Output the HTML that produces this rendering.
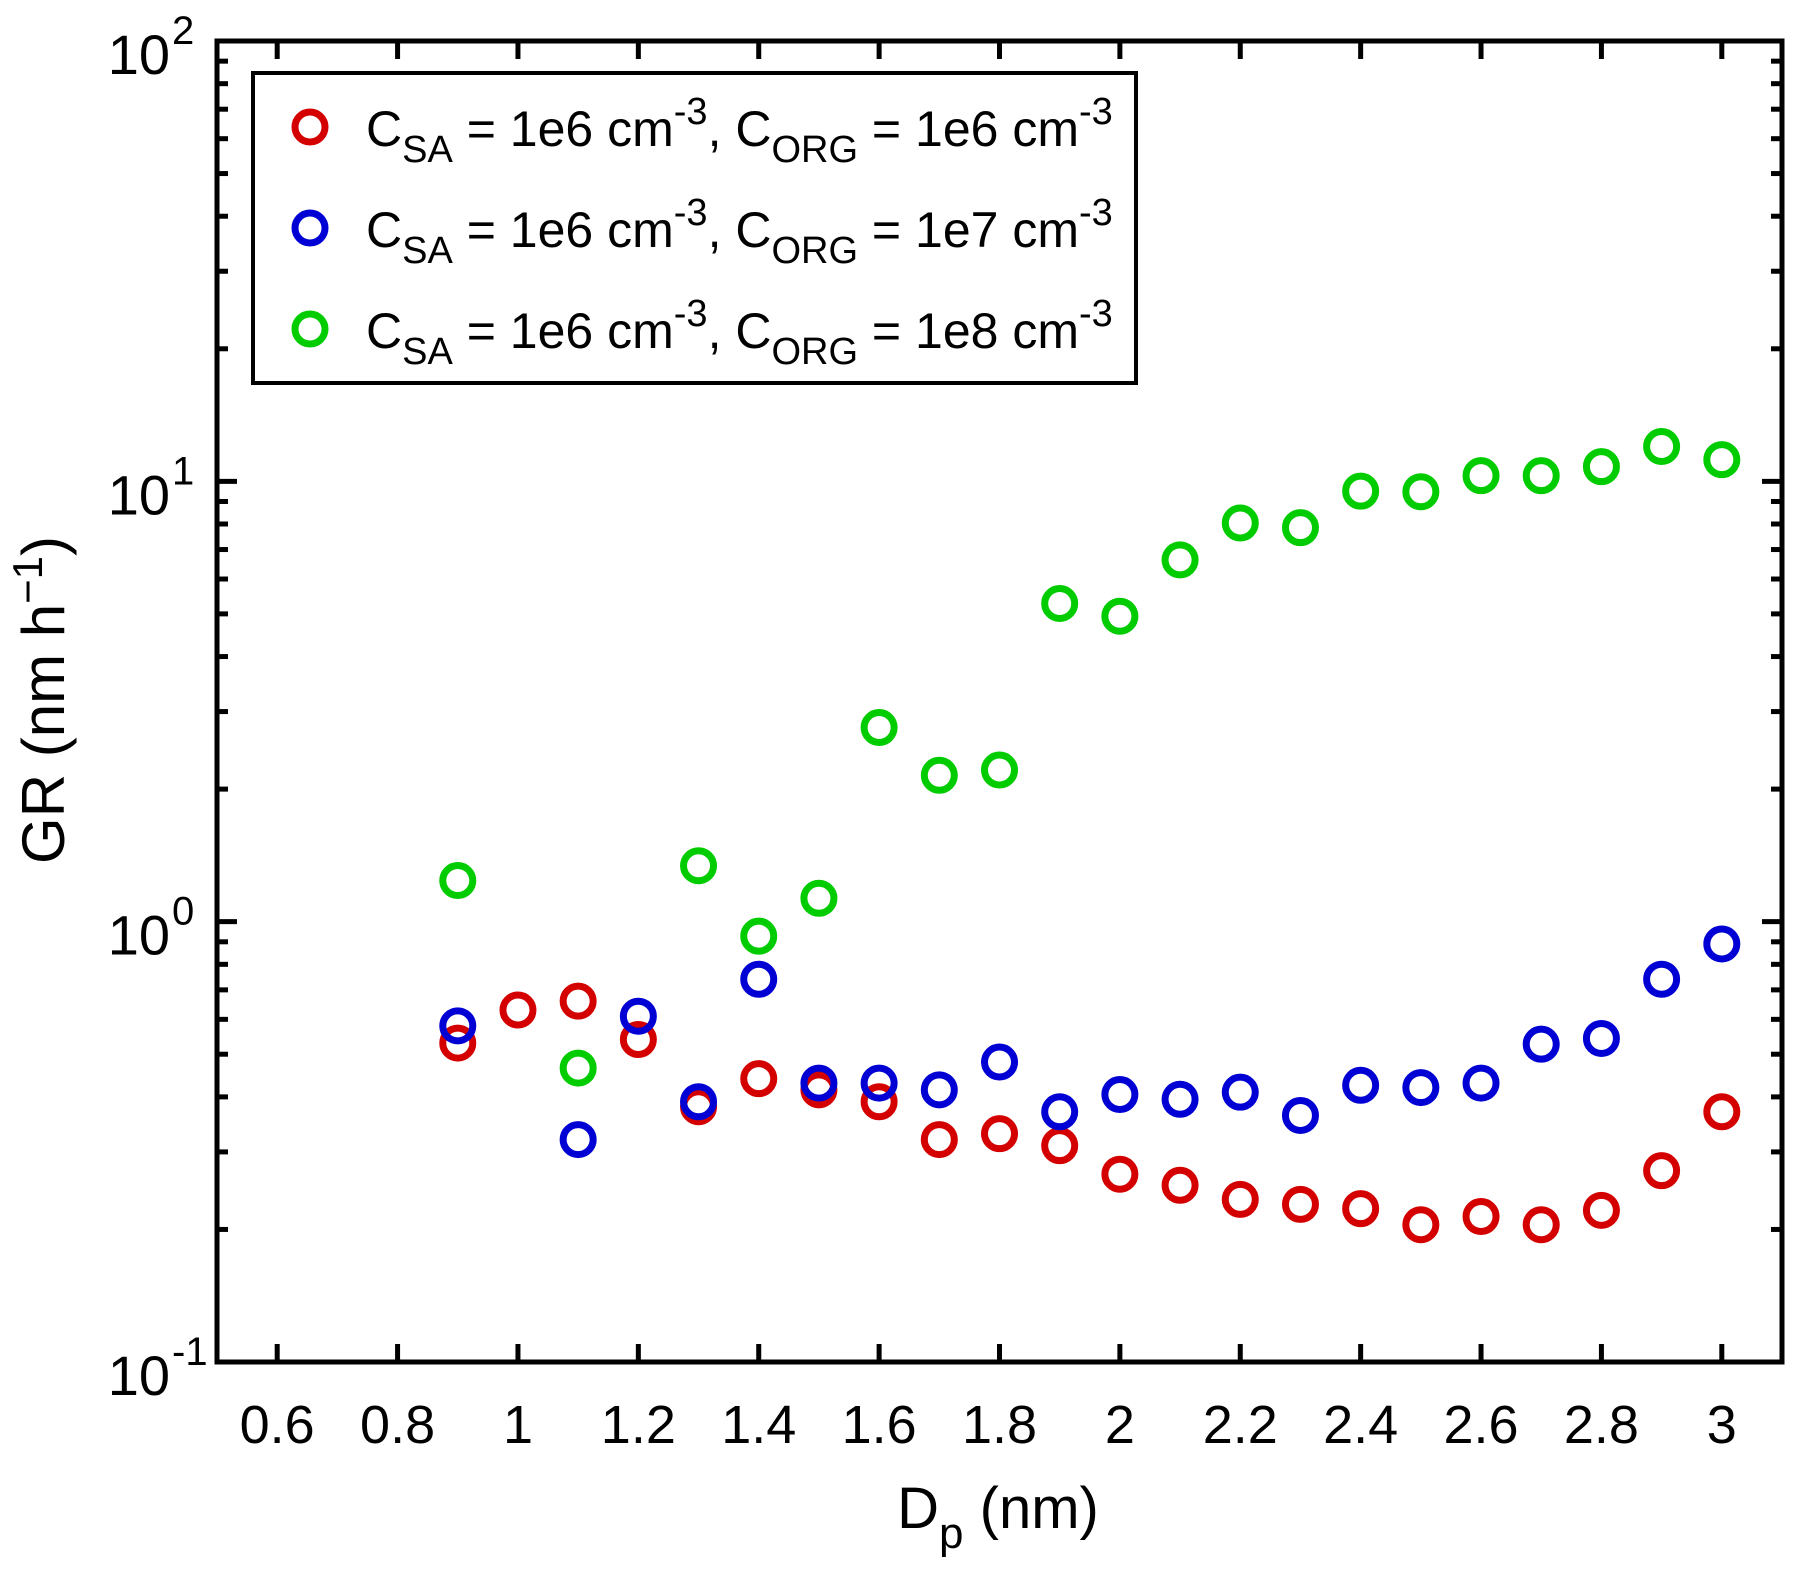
<!DOCTYPE html>
<html><head><meta charset="utf-8"><style>
body{margin:0;background:#fff}
svg{display:block;font-family:"Liberation Sans",Arial,sans-serif}
</style></head><body>
<svg id="chart" width="1798" height="1578" viewBox="0 0 1798 1578">
<rect width="1798" height="1578" fill="#fff"/>
<g id="marks"></g>
<g id="axes"></g>
<g id="legend">
<rect x="253" y="73" width="883" height="310" fill="#fff" stroke="#000" stroke-width="4"/>
<g>
<circle cx="310" cy="127" r="15" fill="none" stroke="#d40000" stroke-width="7"/>
<text x="366" y="146" font-size="50">C<tspan font-size="38" dy="16">SA</tspan><tspan dy="-16"> = 1e6 cm</tspan><tspan font-size="38" dy="-22">-3</tspan><tspan dy="22">, C</tspan><tspan font-size="38" dy="16">ORG</tspan><tspan dy="-16"> = 1e6 cm</tspan><tspan font-size="38" dy="-22">-3</tspan></text>
</g>
<g>
<circle cx="310" cy="228" r="15" fill="none" stroke="#0000d4" stroke-width="7"/>
<text x="366" y="247" font-size="50">C<tspan font-size="38" dy="16">SA</tspan><tspan dy="-16"> = 1e6 cm</tspan><tspan font-size="38" dy="-22">-3</tspan><tspan dy="22">, C</tspan><tspan font-size="38" dy="16">ORG</tspan><tspan dy="-16"> = 1e7 cm</tspan><tspan font-size="38" dy="-22">-3</tspan></text>
</g>
<g>
<circle cx="310" cy="329" r="15" fill="none" stroke="#00cc00" stroke-width="7"/>
<text x="366" y="348" font-size="50">C<tspan font-size="38" dy="16">SA</tspan><tspan dy="-16"> = 1e6 cm</tspan><tspan font-size="38" dy="-22">-3</tspan><tspan dy="22">, C</tspan><tspan font-size="38" dy="16">ORG</tspan><tspan dy="-16"> = 1e8 cm</tspan><tspan font-size="38" dy="-22">-3</tspan></text>
</g>
</g>
<text transform="translate(64,700) rotate(-90)" text-anchor="middle" font-size="60">GR (nm h<tspan font-size="42" dy="-22">−1</tspan><tspan dy="22">)</tspan></text>
<text x="998" y="1528" text-anchor="middle" font-size="58">D<tspan font-size="44" dy="20">p</tspan><tspan dy="-20"> (nm)</tspan></text>
</svg>
<script>
const xs = [0.9,1.0,1.1,1.2,1.3,1.4,1.5,1.6,1.7,1.8,1.9,2.0,2.1,2.2,2.3,2.4,2.5,2.6,2.7,2.8,2.9,3.0];
const redVals = [0.53,0.63,0.66,0.54,0.38,0.44,0.415,0.39,0.32,0.33,0.31,0.267,0.252,0.234,0.228,0.223,0.205,0.214,0.205,0.221,0.272,0.37];
const blueX = [0.9,1.1,1.2,1.3,1.4,1.5,1.6,1.7,1.8,1.9,2.0,2.1,2.2,2.3,2.4,2.5,2.6,2.7,2.8,2.9,3.0];
const blueVals = [0.58,0.32,0.61,0.39,0.74,0.43,0.43,0.415,0.48,0.37,0.405,0.395,0.41,0.363,0.425,0.42,0.43,0.527,0.543,0.74,0.89];
const greenX = [0.9,1.1,1.3,1.4,1.5,1.6,1.7,1.8,1.9,2.0,2.1,2.2,2.3,2.4,2.5,2.6,2.7,2.8,2.9,3.0];
const greenVals = [1.24,0.465,1.34,0.927,1.13,2.76,2.15,2.21,5.28,4.94,6.63,8.04,7.85,9.5,9.47,10.3,10.3,10.8,12.0,11.2];
const xTicks = [0.6,0.8,1,1.2,1.4,1.6,1.8,2,2.2,2.4,2.6,2.8,3];
const xTickLabels = ["0.6","0.8","1","1.2","1.4","1.6","1.8","2","2.2","2.4","2.6","2.8","3"];
const yDecades = [-1,0,1,2];

const L=217,R=1782,T=41,B=1362;
const X0=0.5,X1=3.1,Y0=-1,Y1=2;
function xScale(v){return L+(v-X0)/(X1-X0)*(R-L);}
function yScale(v){return B-(Math.log10(v)-Y0)/(Y1-Y0)*(B-T);}
const NS="http://www.w3.org/2000/svg";
function mk(tag,attrs,parent){const e=document.createElementNS(NS,tag);for(const k in attrs)e.setAttribute(k,attrs[k]);parent.appendChild(e);return e;}
const marks=document.getElementById('marks');
function series(xa,va,color,name){
  const g=mk('g',{},marks);
  
  
  for(let i=0;i<xa.length;i++){
    const c=mk('circle',{cx:xScale(xa[i]),cy:yScale(va[i]),r:15,fill:'none',stroke:color,'stroke-width':7},g);
    
    
  }
}
series(xs,redVals,'#d40000','red');
series(blueX,blueVals,'#0000d4','blue');
series(greenX,greenVals,'#00cc00','green');

const ax=document.getElementById('axes');
const frame=mk('rect',{x:L,y:T,width:R-L,height:B-T,fill:'none',stroke:'#000','stroke-width':5},ax);


xTicks.forEach((v,i)=>{
  const x=xScale(v);
  const t1=mk('line',{x1:x,x2:x,y1:B,y2:B-18,stroke:'#000','stroke-width':5},ax);
  
  
  const t2=mk('line',{x1:x,x2:x,y1:T,y2:T+18,stroke:'#000','stroke-width':5},ax);
  
  
  const lb=mk('text',{x:x,y:1443,'text-anchor':'middle','font-size':54},ax);
  lb.textContent=xTickLabels[i];
  
  
});
yDecades.forEach(d=>{
  const y=yScale(Math.pow(10,d));
  [[L,L+20],[R,R-20]].forEach(p=>{
    const t=mk('line',{x1:p[0],x2:p[1],y1:y,y2:y,stroke:'#000','stroke-width':5},ax);
    
    
  });
  const lb=mk('text',{x:170,y:y+33,'text-anchor':'end','font-size':56},ax);
  lb.textContent='10';
  
  
  const sp=mk('text',{x:172,y:y+3,'text-anchor':'start','font-size':40},ax);
  sp.textContent=String(d);
  
  
  if(d<Y1){
    for(let m=2;m<=9;m++){
      const ym=yScale(m*Math.pow(10,d));
      [[L,L+11],[R,R-11]].forEach(p=>{
        const t=mk('line',{x1:p[0],x2:p[1],y1:ym,y2:ym,stroke:'#000','stroke-width':5},ax);
        
        
      });
    }
  }
});
</script>
</body></html>
